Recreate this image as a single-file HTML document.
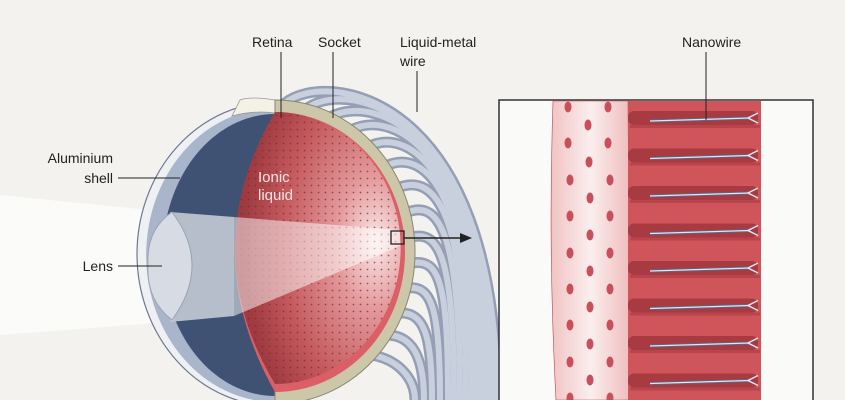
<!DOCTYPE html>
<html><head><meta charset="utf-8"><style>
html,body{margin:0;padding:0;background:#f3f2ee;}
svg{display:block;font-family:"Liberation Sans",sans-serif;}
</style></head><body>
<svg width="845" height="400" viewBox="0 0 845 400" xmlns="http://www.w3.org/2000/svg">
<defs>
<radialGradient id="ret" cx="0.85" cy="0.48" r="0.8">
<stop offset="0" stop-color="#fbe9e9"/><stop offset="0.3" stop-color="#e49a9c"/><stop offset="0.7" stop-color="#c45a5e"/><stop offset="1" stop-color="#9e3a40"/></radialGradient>
<pattern id="dots" width="7" height="7" patternUnits="userSpaceOnUse"><circle cx="3.5" cy="3.5" r="0.9" fill="#7a2530" opacity="0.7"/></pattern>
<linearGradient id="pink" x1="0" x2="1"><stop offset="0" stop-color="#f1c3c3"/><stop offset="0.5" stop-color="#fbeeee"/><stop offset="1" stop-color="#f0bdbd"/></linearGradient>
</defs>
<rect width="845" height="400" fill="#f3f2ee"/>
<polygon points="0,195 0,335 170,322 170,212" fill="#fbfbfa"/>
<!-- wires -->
<g fill="none" stroke-linecap="round">
<g stroke="#949eb4" stroke-width="11">
<path d="M285,103 C325,70 497,90 497,400"/>
<path d="M309,107 C350,80 492,110 492,400"/>
<path d="M332,116 C375,95 487,130 487,400"/>
<path d="M353,129 C395,110 482,150 482,400"/>
<path d="M372,145 C410,130 477,170 477,400"/>
<path d="M388,165 C425,150 472,190 472,400"/>
<path d="M400,187 C435,175 466,210 466,400"/>
<path d="M408,212 C440,200 460,235 460,400"/>
<path d="M412,237 C440,230 454,260 454,400"/>
<path d="M412,263 C440,258 448,285 448,400"/>
<path d="M408,288 C432,285 440,310 440,400"/>
<path d="M400,313 C424,312 432,335 432,400"/>
<path d="M388,335 C414,336 424,360 424,400"/>
<path d="M372,355 C400,360 415,380 415,400"/>
</g>
<g stroke="#c8cfdd" stroke-width="6">
<path d="M285,103 C325,70 497,90 497,400"/>
<path d="M309,107 C350,80 492,110 492,400"/>
<path d="M332,116 C375,95 487,130 487,400"/>
<path d="M353,129 C395,110 482,150 482,400"/>
<path d="M372,145 C410,130 477,170 477,400"/>
<path d="M388,165 C425,150 472,190 472,400"/>
<path d="M400,187 C435,175 466,210 466,400"/>
<path d="M408,212 C440,200 460,235 460,400"/>
<path d="M412,237 C440,230 454,260 454,400"/>
<path d="M412,263 C440,258 448,285 448,400"/>
<path d="M408,288 C432,285 440,310 440,400"/>
<path d="M400,313 C424,312 432,335 432,400"/>
<path d="M388,335 C414,336 424,360 424,400"/>
<path d="M372,355 C400,360 415,380 415,400"/>
</g></g>
<!-- eye front -->
<path d="M275,102 A138,152 0 0 0 275,406 Z" fill="#eef0f3" stroke="#6d7890" stroke-width="1.2"/>
<path d="M275,108 A128,146 0 0 0 275,402 Z" fill="#a9b5ca"/>
<path d="M275,114 A110,138 0 0 0 275,396 Z" fill="#3f5274"/>
<path d="M240,100 Q250,96 275,100 L275,113 Q255,110 232,116 Z" fill="#f4f1e6" stroke="#999" stroke-width="0.8"/>
<!-- socket -->
<path d="M275,100 A140,152 0 0 1 275,404 Z" fill="#cdc7aa" stroke="#8a8670" stroke-width="1"/>
<path d="M275,112 A130,140 0 0 1 275,392 Q195,250 275,112 Z" fill="#dc5e66"/>
<path d="M275,112 A122,132 0 0 1 275,384 Q195,250 275,112 Z" fill="url(#ret)"/>
<path d="M275,112 A122,132 0 0 1 275,384 Q195,250 275,112 Z" fill="url(#dots)"/>
<!-- light cone -->
<polygon points="170,212 234,217 234,316 170,322" fill="#c3c9d5" opacity="0.9"/>
<polygon points="234,217 400,230 400,246 234,316" fill="#fff" opacity="0.5"/>
<!-- lens -->
<path d="M172,212 Q212,265 172,320 Q146,300 148,265 Q146,230 172,212 Z" fill="#d6dbe4" stroke="#9aa3b5" stroke-width="1"/>
<text x="258" y="182" font-size="15" fill="#f6e6e6">Ionic</text>
<text x="258" y="200" font-size="15" fill="#f6e6e6">liquid</text>
<rect x="391" y="231" width="13" height="13" fill="none" stroke="#222" stroke-width="1.3"/>
<line x1="404" y1="238" x2="462" y2="238" stroke="#222" stroke-width="1.5"/>
<polygon points="472,238 460,233 460,243" fill="#222"/>
<!-- inset -->
<rect x="499" y="100" width="314" height="310" fill="#fafaf8" stroke="#333" stroke-width="1.5"/>
<path d="M553,101 Q548,250 556,400 L630,400 L628,101 Z" fill="url(#pink)" stroke="#b44" stroke-width="0.6"/>
<g fill="#c9505a">
<ellipse cx="568" cy="107" rx="3.5" ry="5.5"/><ellipse cx="608" cy="107" rx="3.5" ry="5.5"/>
<ellipse cx="568" cy="143" rx="3.5" ry="5.5"/><ellipse cx="608" cy="143" rx="3.5" ry="5.5"/>
<ellipse cx="570" cy="180" rx="3.5" ry="5.5"/><ellipse cx="610" cy="180" rx="3.5" ry="5.5"/>
<ellipse cx="570" cy="216" rx="3.5" ry="5.5"/><ellipse cx="610" cy="216" rx="3.5" ry="5.5"/>
<ellipse cx="570" cy="253" rx="3.5" ry="5.5"/><ellipse cx="610" cy="253" rx="3.5" ry="5.5"/>
<ellipse cx="570" cy="289" rx="3.5" ry="5.5"/><ellipse cx="610" cy="289" rx="3.5" ry="5.5"/>
<ellipse cx="570" cy="325" rx="3.5" ry="5.5"/><ellipse cx="610" cy="325" rx="3.5" ry="5.5"/>
<ellipse cx="570" cy="362" rx="3.5" ry="5.5"/><ellipse cx="610" cy="362" rx="3.5" ry="5.5"/>
<ellipse cx="570" cy="398" rx="3.5" ry="5.5"/><ellipse cx="610" cy="398" rx="3.5" ry="5.5"/>
<ellipse cx="588" cy="125" rx="3.5" ry="5.5"/><ellipse cx="589" cy="162" rx="3.5" ry="5.5"/>
<ellipse cx="590" cy="198" rx="3.5" ry="5.5"/><ellipse cx="590" cy="235" rx="3.5" ry="5.5"/>
<ellipse cx="590" cy="271" rx="3.5" ry="5.5"/><ellipse cx="590" cy="307" rx="3.5" ry="5.5"/>
<ellipse cx="590" cy="344" rx="3.5" ry="5.5"/><ellipse cx="590" cy="380" rx="3.5" ry="5.5"/>
</g>
<rect x="628" y="101" width="133" height="299" fill="#d0555a"/>
<g>
<g id="gr"><rect x="628" y="111" width="130" height="14" rx="6" fill="#a83a42"/><rect x="630" y="125" width="130" height="3" fill="#b9454c"/><line x1="650" y1="121" x2="750" y2="118" stroke="#5a6a88" stroke-width="3"/><line x1="650" y1="121" x2="750" y2="118" stroke="#dfe6f2" stroke-width="1.3"/><path d="M758,113 L748,118 L758,123" fill="none" stroke="#dfe6f2" stroke-width="1.5"/></g>
<use href="#gr" y="37.5"/><use href="#gr" y="75"/><use href="#gr" y="112.5"/><use href="#gr" y="150"/><use href="#gr" y="187.5"/><use href="#gr" y="225"/><use href="#gr" y="262.5"/>
</g>
<g font-size="14" fill="#222">
<text x="252" y="47">Retina</text>
<text x="318" y="47">Socket</text>
<text x="400" y="47">Liquid-metal</text>
<text x="400" y="66">wire</text>
<text x="682" y="47">Nanowire</text>
<text x="113" y="163" text-anchor="end">Aluminium</text>
<text x="113" y="183" text-anchor="end">shell</text>
<text x="113" y="271" text-anchor="end">Lens</text>
</g>
<g stroke="#222" stroke-width="1">
<line x1="281" y1="52" x2="281" y2="118"/>
<line x1="333" y1="52" x2="333" y2="118"/>
<line x1="417" y1="71" x2="417" y2="112"/>
<line x1="706" y1="52" x2="706" y2="120"/>
<line x1="118" y1="178" x2="180" y2="178"/>
<line x1="118" y1="266" x2="162" y2="266"/>
</g>
</svg>
</body></html>
